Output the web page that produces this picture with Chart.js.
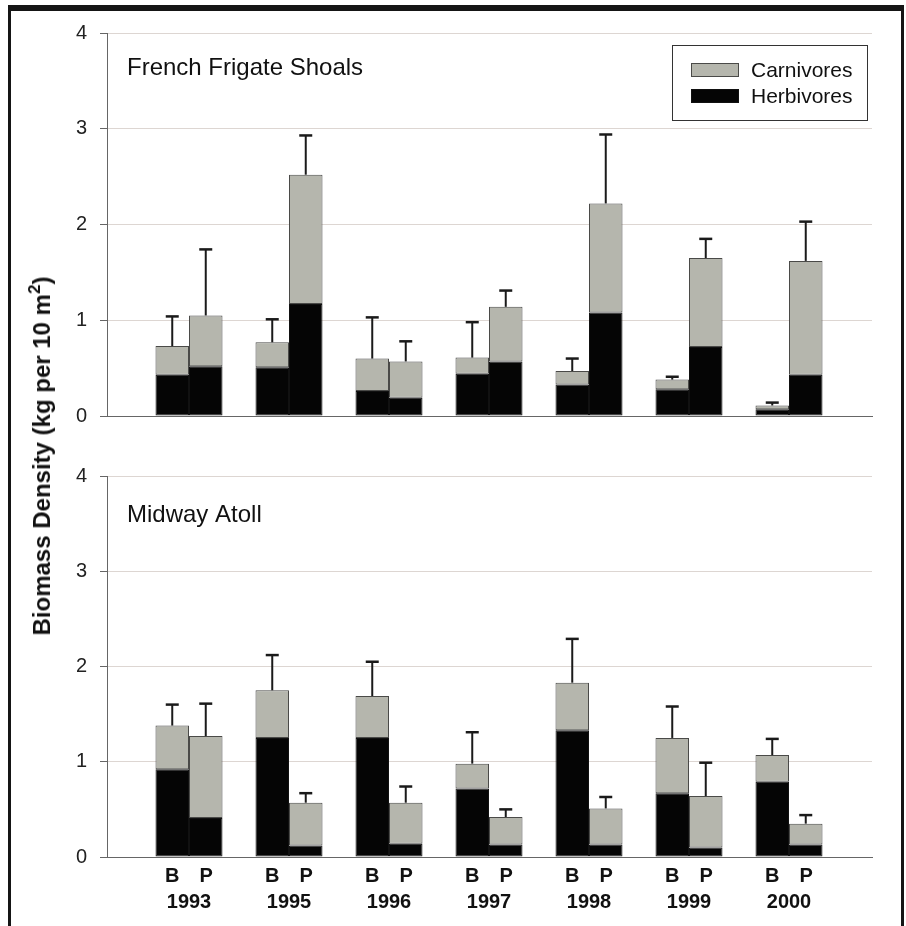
<!DOCTYPE html>
<html>
<head>
<meta charset="utf-8">
<script src="https://cdn.jsdelivr.net/npm/chart.js@4.4.0/dist/chart.umd.min.js"></script>
<style>
  html, body { margin: 0; padding: 0; background: #fff; }
  #page { position: relative; width: 906px; height: 926px; overflow: hidden; background: #fff; }
  .frame { position: absolute; background: #151515; }
  .panel { position: absolute; left: 0; width: 906px; }
  #yTitle {
    position: absolute; left: 42px; top: 456px;
    transform: translate(-50%, -50%) rotate(-90deg);
    white-space: nowrap; line-height: 24px;
    font: bold 24px "Liberation Sans", Arial, sans-serif; color: #111;
  }
  #yTitle span { position: relative; top: -0.6em; font-size: 17px; }
</style>
</head>
<body>
<div id="page">
  <div class="frame" style="left:8px; top:5px; width:896px; height:6px;"></div>
  <div class="frame" style="left:8px; top:5px; width:3px; height:921px;"></div>
  <div class="frame" style="left:901px; top:5px; width:3px; height:921px;"></div>
  <div class="panel" style="top:0; height:450px;"><canvas id="ffsChart" width="906" height="450"></canvas></div>
  <div class="panel" style="top:450px; height:476px;"><canvas id="midChart" width="906" height="476"></canvas></div>
  <div id="yTitle">Biomass Density (kg per 10 m<span>2</span>)</div>
</div>
<script>
const years = ["1993", "1995", "1996", "1997", "1998", "1999", "2000"];
const treatments = ["B", "P"];

// French Frigate Shoals
const ffsHerbB = [0.43, 0.51, 0.26, 0.44, 0.33, 0.28, 0.07];
const ffsCarnB = [0.30, 0.26, 0.34, 0.17, 0.14, 0.10, 0.04];
const ffsErrB = [0.31, 0.24, 0.43, 0.37, 0.13, 0.03, 0.03];
const ffsHerbP = [0.52, 1.17, 0.19, 0.57, 1.08, 0.72, 0.43];
const ffsCarnP = [0.53, 1.35, 0.38, 0.57, 1.14, 0.93, 1.19];
const ffsErrP = [0.69, 0.41, 0.21, 0.17, 0.72, 0.20, 0.41];

// Midway Atoll
const midHerbB = [0.92, 1.25, 1.25, 0.72, 1.33, 0.67, 0.79];
const midCarnB = [0.46, 0.50, 0.44, 0.26, 0.50, 0.58, 0.28];
const midErrB = [0.22, 0.37, 0.36, 0.33, 0.46, 0.33, 0.17];
const midHerbP = [0.41, 0.12, 0.14, 0.13, 0.13, 0.10, 0.13];
const midCarnP = [0.86, 0.45, 0.43, 0.29, 0.38, 0.54, 0.22];
const midErrP = [0.34, 0.10, 0.17, 0.08, 0.12, 0.35, 0.09];

const yTicks = [0, 1, 2, 3, 4];

const FONT = "'Liberation Sans', Arial, sans-serif";
const GREY = "#b5b6ad";
const BLACK = "#050505";

const toPoints = (arr) => arr.map((v, i) => ({ x: i, y: v }));

// error bars sit on top of the last segment of each stack
const errorBars = {
  id: "errorBars",
  afterDatasetsDraw(chart) {
    const ctx = chart.ctx;
    const yScale = chart.scales.y;
    ctx.save();
    ctx.strokeStyle = "#1a1a1a";
    chart.data.datasets.forEach((ds, i) => {
      if (!ds.errors) return;
      chart.getDatasetMeta(i).data.forEach((bar, j) => {
        let len = yScale.getPixelForValue(0) - yScale.getPixelForValue(ds.errors[j]);
        let top = bar.y - len;
        ctx.lineWidth = 2;
        ctx.beginPath();
        ctx.moveTo(bar.x, bar.y);
        ctx.lineTo(bar.x, top);
        ctx.stroke();
        ctx.lineWidth = 2.5;
        ctx.beginPath();
        ctx.moveTo(bar.x - 6.5, top);
        ctx.lineTo(bar.x + 6.5, top);
        ctx.stroke();
      });
    });
    ctx.restore();
  },
};

// site name in the corner + boxed legend
const panelDecor = {
  id: "panelDecor",
  afterDraw(chart, args, opts) {
    const ctx = chart.ctx;
    const area = chart.chartArea;
    ctx.save();
    ctx.fillStyle = "#111";
    ctx.font = "24px " + FONT;
    ctx.textBaseline = "alphabetic";
    ctx.fillText(opts.title, area.left + opts.titleX, area.top + opts.titleY);

    if (opts.legend) {
      let items = [];
      chart.data.datasets.slice().reverse().forEach((ds) => {
        if (!items.find((it) => it.label === ds.label)) items.push(ds);
      });
      let w = 195, h = 75;
      let left = area.right - 5 - w, top = area.top + 12;
      ctx.strokeStyle = "#333";
      ctx.lineWidth = 1;
      ctx.strokeRect(left + 0.5, top + 0.5, w, h);
      ctx.font = "21px " + FONT;
      ctx.textBaseline = "middle";
      items.forEach((ds, k) => {
        let cy = top + 25 + k * 26;
        ctx.fillStyle = ds.backgroundColor;
        ctx.fillRect(left + 19, cy - 7, 48, 14);
        ctx.strokeStyle = ds.borderColor;
        ctx.strokeRect(left + 19.5, cy - 6.5, 47, 13);
        ctx.fillStyle = "#111";
        ctx.fillText(ds.label, left + 79, cy + 1);
      });
    }
    ctx.restore();
  },
};

function makeChart(id, title, herbB, carnB, errB, herbP, carnP, errP, cfg) {
  const herb = { backgroundColor: BLACK, borderColor: "#111", borderWidth: 1, borderSkipped: false };
  const carn = { backgroundColor: GREY, borderColor: "#4a4a48", borderWidth: 1, borderSkipped: false };

  return new Chart(document.getElementById(id), {
    type: "bar",
    data: {
      datasets: [
        { label: "Herbivores", stack: treatments[0], data: toPoints(herbB), ...herb },
        { label: "Carnivores", stack: treatments[0], data: toPoints(carnB), errors: errB, ...carn },
        { label: "Herbivores", stack: treatments[1], data: toPoints(herbP), ...herb },
        { label: "Carnivores", stack: treatments[1], data: toPoints(carnP), errors: errP, ...carn },
      ],
    },
    options: {
      responsive: false,
      animation: false,
      categoryPercentage: 0.67,
      barPercentage: 1.0,
      layout: { padding: cfg.padding },
      scales: {
        x: {
          type: "linear",
          stacked: true,
          offset: false,
          min: -0.82,
          max: 6.83,
          afterBuildTicks: (axis) => {
            axis.ticks = years.map((y, i) => ({ value: i }));
          },
          afterFit: (scale) => {
            scale.height = cfg.xHeight;
          },
          grid: { display: false, drawTicks: false, offset: false },
          border: { display: true, color: "#666", width: 1 },
          ticks: {
            display: cfg.showX,
            autoSkip: false,
            maxRotation: 0,
            padding: 6,
            color: "#111",
            font: { family: FONT, size: 20, weight: "bold", lineHeight: 1.33 },
            callback: (value) => [treatments.join("\u2003"), years[value]],
          },
        },
        y: {
          stacked: true,
          min: 0,
          max: 4,
          afterBuildTicks: (axis) => {
            axis.ticks = yTicks.map((v) => ({ value: v }));
          },
          afterFit: (scale) => {
            scale.width = 107;
          },
          grid: { color: "#ddd6d2", tickColor: "#666", tickLength: 7, lineWidth: 1 },
          border: { color: "#666", width: 1 },
          ticks: {
            padding: 13,
            color: "#222",
            font: { family: FONT, size: 20 },
          },
        },
      },
      plugins: {
        legend: { display: false },
        tooltip: { enabled: false },
        panelDecor: { title: title, legend: cfg.legend, titleX: 20, titleY: cfg.titleY },
      },
    },
    plugins: [errorBars, panelDecor],
  });
}

makeChart("ffsChart", "French Frigate Shoals", ffsHerbB, ffsCarnB, ffsErrB, ffsHerbP, ffsCarnP, ffsErrP, {
  padding: { left: 0, right: 34, top: 33, bottom: 34 },
  xHeight: 0,
  showX: false,
  legend: true,
  titleY: 42,
});

makeChart("midChart", "Midway Atoll", midHerbB, midCarnB, midErrB, midHerbP, midCarnP, midErrP, {
  padding: { left: 0, right: 34, top: 26, bottom: 0 },
  xHeight: 69,
  showX: true,
  legend: false,
  titleY: 46,
});
</script>
</body>
</html>
